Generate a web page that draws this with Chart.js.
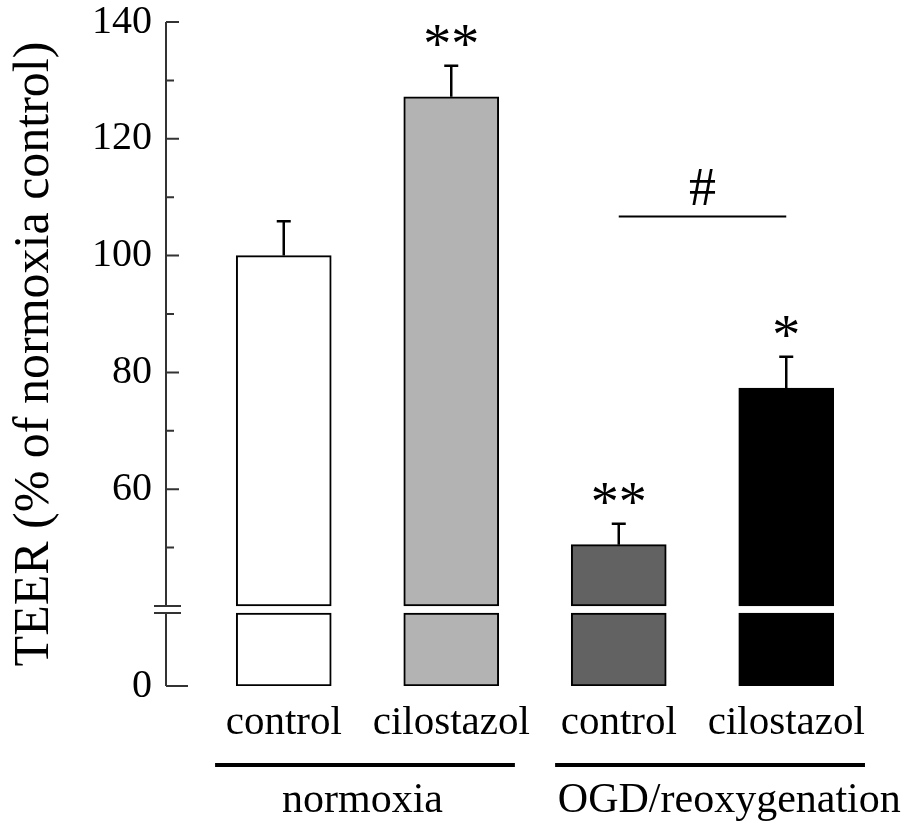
<!DOCTYPE html>
<html>
<head>
<meta charset="utf-8">
<title>TEER</title>
<script src="https://cdn.jsdelivr.net/npm/chart.js@4.4.1/dist/chart.umd.min.js"></script>
<style>
  html, body { margin: 0; padding: 0; background: #fff; }
  #wrap { width: 907px; height: 829px; position: relative; }
</style>
</head>
<body>
<div id="wrap"><canvas id="teer"></canvas></div>
<script>
// TEER as % of normoxia control, mean + SEM
const conditions = ['control', 'cilostazol', 'control', 'cilostazol'];
const teerMean = [100, 127.2, 50.5, 77.3];
const teerSem = [5.9, 5.3, 3.6, 5.4];
const sigMarks = ['', '**', '**', '*'];
const barColors = ['#ffffff', '#b3b3b3', '#626262', '#000000'];

const yTicks = [0, 50, 60, 70, 80, 90, 100, 110, 120, 130, 140];
const yLabelled = [0, 60, 80, 100, 120, 140];

// groups under the x labels (extents in category units)
const groups = [
  { label: 'normoxia', from: -0.41, to: 1.38, labelAt: 0.47 },
  { label: 'OGD/reoxygenation', from: 1.62, to: 3.47, labelAt: 2.66 },
];
// OGD control vs OGD cilostazol
const bracket = { from: 2, to: 3, level: 106.7, text: '#' };

// the y axis skips CUT_LO..CUT_HI
const CUT_LO = 12.5;
const CUT_HI = 40;
const CUT_GAP = 7;        // px
const AXIS_SHIFT = 34;    // axis line sits left of the plot area

const SERIF = '"Liberation Serif", "Times New Roman", serif';

class BrokenLinearScale extends Chart.LinearScale {
  static id = 'brokenLinear';
  static defaults = Chart.LinearScale.defaults;

  _k() {
    const span = (this.max - CUT_HI) + (CUT_LO - this.min);
    return (this.bottom - this.top - CUT_GAP) / span;
  }
  getPixelForValue(value) {
    const k = this._k();
    const lowTop = this.bottom - (CUT_LO - this.min) * k;
    if (value <= CUT_LO) return this.bottom - (value - this.min) * k;
    if (value < CUT_HI) return lowTop - (value - CUT_LO) / (CUT_HI - CUT_LO) * CUT_GAP;
    return lowTop - CUT_GAP - (value - CUT_HI) * k;
  }
  getValueForPixel(pixel) {
    const k = this._k();
    const lowTop = this.bottom - (CUT_LO - this.min) * k;
    if (pixel >= lowTop) return this.min + (this.bottom - pixel) / k;
    if (pixel > lowTop - CUT_GAP) return CUT_LO + (lowTop - pixel) / CUT_GAP * (CUT_HI - CUT_LO);
    return CUT_HI + (lowTop - CUT_GAP - pixel) / k;
  }
}
Chart.register(BrokenLinearScale);

// axis with inward ticks and break marks, error bars, significance marks, groups
const decorPlugin = {
  id: 'teerDecor',
  afterDatasetsDraw(chart) {
    const { ctx, chartArea, scales: { x, y } } = chart;
    const ax = chartArea.left - AXIS_SHIFT;
    ctx.save();

    // y axis, drawn in two pieces
    ctx.strokeStyle = '#333';
    ctx.lineWidth = 2;
    ctx.beginPath();
    ctx.moveTo(ax, y.getPixelForValue(y.max));
    ctx.lineTo(ax, y.getPixelForValue(CUT_HI));
    ctx.moveTo(ax, y.getPixelForValue(CUT_LO));
    ctx.lineTo(ax, y.getPixelForValue(0));
    // break marks
    [CUT_HI, CUT_LO].forEach(v => {
      const py = y.getPixelForValue(v);
      ctx.moveTo(ax - 12, py);
      ctx.lineTo(ax + 15, py);
    });
    yTicks.forEach(v => {
      const py = y.getPixelForValue(v);
      const len = v === 0 ? 22 : (yLabelled.includes(v) ? 13 : 8);
      ctx.moveTo(ax, py);
      ctx.lineTo(ax + len, py);
    });
    ctx.stroke();

    // error bars (upper only)
    ctx.strokeStyle = '#000';
    ctx.lineWidth = 2.5;
    ctx.fillStyle = '#000';
    ctx.textAlign = 'center';
    ctx.textBaseline = 'alphabetic';
    teerMean.forEach((m, i) => {
      const px = x.getPixelForValue(i);
      const yBar = y.getPixelForValue(m);
      const yTop = y.getPixelForValue(m + teerSem[i]);
      ctx.beginPath();
      ctx.moveTo(px, yBar);
      ctx.lineTo(px, yTop);
      ctx.moveTo(px - 7, yTop);
      ctx.lineTo(px + 7, yTop);
      ctx.stroke();
      if (sigMarks[i]) {
        ctx.font = `56px ${SERIF}`;
        ctx.fillText(sigMarks[i], px, yTop - 3);
      }
    });

    // # bracket
    const bx0 = x.getPixelForValue(bracket.from);
    const bx1 = x.getPixelForValue(bracket.to);
    const by = y.getPixelForValue(bracket.level);
    ctx.lineWidth = 2;
    ctx.beginPath();
    ctx.moveTo(bx0, by);
    ctx.lineTo(bx1, by);
    ctx.stroke();
    ctx.font = `54px ${SERIF}`;
    ctx.fillText(bracket.text, (bx0 + bx1) / 2, by - 11);

    // group lines and names
    const gy = 765;
    ctx.lineWidth = 4;
    ctx.textBaseline = 'middle';
    ctx.font = `42px ${SERIF}`;
    groups.forEach(g => {
      ctx.beginPath();
      ctx.moveTo(x.getPixelForValue(g.from), gy);
      ctx.lineTo(x.getPixelForValue(g.to), gy);
      ctx.stroke();
      ctx.fillText(g.label, x.getPixelForValue(g.labelAt), gy + 36);
    });

    ctx.restore();
  }
};

const barStyle = {
  borderColor: '#000',
  borderWidth: 2,
  borderSkipped: false,
  barThickness: 95,
  backgroundColor: barColors,
};

new Chart(document.getElementById('teer'), {
  type: 'bar',
  data: {
    labels: conditions,
    datasets: [
      // stub below the axis break
      { ...barStyle, data: conditions.map(() => [0, CUT_LO]) },
      // part above the break, up to the mean
      { ...barStyle, data: teerMean.map(v => [CUT_HI, v]) },
    ],
  },
  options: {
    responsive: true,
    maintainAspectRatio: false,
    animation: false,
    events: [],
    layout: { padding: { top: 22, right: 37, bottom: 0, left: 0 } },
    datasets: { bar: { grouped: false } },
    scales: {
      x: {
        offset: true,
        grid: { display: false, drawTicks: false },
        border: { display: false },
        ticks: { color: '#000', padding: 17, font: { family: SERIF, size: 41, lineHeight: 1 } },
        afterFit: (s) => { s.height = 143; },
      },
      y: {
        type: 'brokenLinear',
        min: 0,
        max: 140,
        grid: { display: false, drawTicks: false },
        border: { display: false },
        afterBuildTicks: (s) => { s.ticks = yTicks.map(v => ({ value: v })); },
        afterFit: (s) => {
          s.width = 200;
          s.paddingTop = 0;
          s.paddingBottom = 0;
        },
        ticks: {
          autoSkip: false,
          color: '#000',
          padding: 48,
          font: { family: SERIF, size: 40, lineHeight: 1 },
          callback: (v) => yLabelled.includes(v) ? String(v) : '',
        },
        title: {
          display: true,
          text: 'TEER (% of normoxia control)',
          color: '#000',
          font: { family: SERIF, size: 50, lineHeight: 1.2 },
          padding: { top: 5, bottom: 0 },
        },
      },
    },
    plugins: {
      legend: { display: false },
      tooltip: { enabled: false },
    },
  },
  plugins: [decorPlugin],
});
</script>
</body>
</html>
